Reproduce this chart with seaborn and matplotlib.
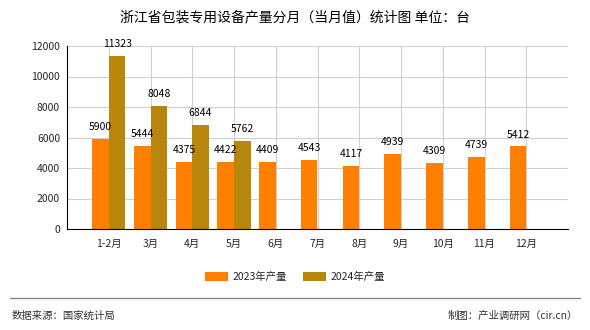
import matplotlib
matplotlib.use("Agg")
import matplotlib.pyplot as plt
import seaborn as sns
import pandas as pd
import numpy as np

months = ["1-2月", "3月", "4月", "5月", "6月", "7月", "8月", "9月", "10月", "11月", "12月"]
vals_2023 = [5900, 5444, 4375, 4422, 4409, 4543, 4117, 4939, 4309, 4739, 5412]
vals_2024 = [11323, 8048, 6844, 5762, np.nan, np.nan, np.nan, np.nan, np.nan, np.nan, np.nan]
series = ["2023年产量", "2024年产量"]
colors = ["#FF8000", "#B8860B"]

df = pd.DataFrame({
    "month": months * 2,
    "value": vals_2023 + vals_2024,
    "series": [series[0]] * len(months) + [series[1]] * len(months),
})

sns.set_style("white")
plt.rcParams["font.family"] = ["Noto Sans CJK SC", "DejaVu Sans"]

fig = plt.figure(figsize=(5.9, 3.3), dpi=100)
ax = fig.add_axes([67/590, 1 - 229/330, (568-67)/590, (229-46)/330])

sns.barplot(data=df, x="month", y="value", hue="series", palette=colors,
            width=0.8, saturation=1, ax=ax, legend=False, order=months, hue_order=series,
            linewidth=0, edgecolor="none")

for cont in ax.containers:
    for rect in cont:
        h = rect.get_height()
        if np.isnan(h) or h == 0:
            continue
        ax.annotate(f"{int(round(h))}", (rect.get_x() + rect.get_width()/2, h),
                    xytext=(0, 5), textcoords="offset points", ha="center", va="bottom",
                    fontsize=7.5, color="black")

ax.set_xlim(-1, 11)
ax.set_ylim(0, 12000)
ax.set_yticks(range(0, 12001, 2000))
ax.set_xticks(range(-1, 12))
ax.set_xticklabels([""] + months + [""])
ax.tick_params(axis="both", labelsize=7.5, length=3, color="black", pad=2)
ax.tick_params(axis="x", pad=4)
ax.set_xlabel("")
ax.set_ylabel("")
ax.grid(True, color="#d0d0d0", linewidth=0.8)
ax.set_axisbelow(True)
for s in ["top", "right"]:
    ax.spines[s].set_visible(False)
ax.spines["left"].set_color("black")
ax.spines["bottom"].set_color("black")
ax.spines["left"].set_linewidth(0.8)
ax.spines["bottom"].set_linewidth(0.8)

fig.text(0.5, 1 - 17/330, "浙江省包装专用设备产量分月（当月值）统计图 单位：台",
         ha="center", va="center", fontsize=10, color="black")

from matplotlib.patches import Patch
handles = [Patch(facecolor=c, edgecolor="none") for c in colors]
fig.legend(handles, series, loc="center", bbox_to_anchor=(0.5, 1 - 277/330), ncol=2,
           frameon=False, fontsize=7.5, handlelength=2.2, handleheight=0.9,
           columnspacing=1.6, handletextpad=0.4)

fig.add_artist(plt.Line2D([10/590, 580/590], [1 - 298/330, 1 - 298/330],
                          color="#888888", linewidth=1, transform=fig.transFigure))
fig.text(12/590, 1 - 316/330, "数据来源：国家统计局", ha="left", va="center",
         fontsize=7.5, color="#333333")
fig.text(578/590, 1 - 316/330, "制图：产业调研网（cir.cn）", ha="right", va="center",
         fontsize=7.5, color="#333333")

fig.savefig("out.png", dpi=100)
